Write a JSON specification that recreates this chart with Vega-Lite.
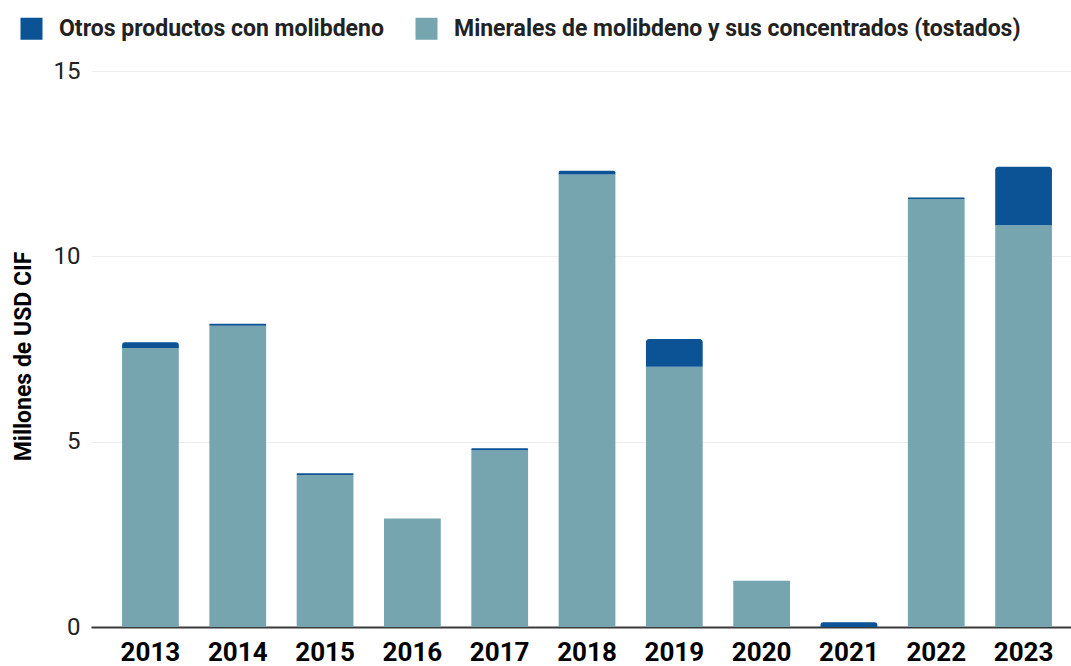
{
  "$schema": "https://vega.github.io/schema/vega-lite/v6.json",
  "autosize": "none",
  "width": 980,
  "height": 556,
  "padding": {"left": 91, "top": 71, "right": 0, "bottom": 39},
  "config": {"font": "Roboto", "view": {"stroke": null}},
  "data": {
    "values": [
      {"anio": "2013", "producto": "Minerales de molibdeno y sus concentrados (tostados)", "valor": 7.53},
      {"anio": "2013", "producto": "Otros productos con molibdeno", "valor": 0.15},
      {"anio": "2014", "producto": "Minerales de molibdeno y sus concentrados (tostados)", "valor": 8.13},
      {"anio": "2014", "producto": "Otros productos con molibdeno", "valor": 0.05},
      {"anio": "2015", "producto": "Minerales de molibdeno y sus concentrados (tostados)", "valor": 4.1},
      {"anio": "2015", "producto": "Otros productos con molibdeno", "valor": 0.05},
      {"anio": "2016", "producto": "Minerales de molibdeno y sus concentrados (tostados)", "valor": 2.93},
      {"anio": "2016", "producto": "Otros productos con molibdeno", "valor": 0},
      {"anio": "2017", "producto": "Minerales de molibdeno y sus concentrados (tostados)", "valor": 4.77},
      {"anio": "2017", "producto": "Otros productos con molibdeno", "valor": 0.05},
      {"anio": "2018", "producto": "Minerales de molibdeno y sus concentrados (tostados)", "valor": 12.21},
      {"anio": "2018", "producto": "Otros productos con molibdeno", "valor": 0.1},
      {"anio": "2019", "producto": "Minerales de molibdeno y sus concentrados (tostados)", "valor": 7.02},
      {"anio": "2019", "producto": "Otros productos con molibdeno", "valor": 0.75},
      {"anio": "2020", "producto": "Minerales de molibdeno y sus concentrados (tostados)", "valor": 1.25},
      {"anio": "2020", "producto": "Otros productos con molibdeno", "valor": 0},
      {"anio": "2021", "producto": "Minerales de molibdeno y sus concentrados (tostados)", "valor": 0},
      {"anio": "2021", "producto": "Otros productos con molibdeno", "valor": 0.13},
      {"anio": "2022", "producto": "Minerales de molibdeno y sus concentrados (tostados)", "valor": 11.55},
      {"anio": "2022", "producto": "Otros productos con molibdeno", "valor": 0.04},
      {"anio": "2023", "producto": "Minerales de molibdeno y sus concentrados (tostados)", "valor": 10.84},
      {"anio": "2023", "producto": "Otros productos con molibdeno", "valor": 1.58}
    ]
  },
  "transform": [
    {"stack": "valor", "groupby": ["anio"], "sort": [{"field": "producto", "order": "ascending"}], "as": ["y0", "y1"]}
  ],
  "encoding": {
    "x": {
      "field": "anio", "type": "nominal", "title": null,
      "scale": {"paddingInner": 0.35, "paddingOuter": 0.287, "align": 0.62},
      "axis": {"labelAngle": 0, "labelFontSize": 26, "labelFontWeight": "bold", "labelColor": "#000000", "ticks": false, "labelPadding": 12, "domainColor": "#3a3a3a", "domainWidth": 2}
    },
    "y": {
      "field": "y1", "type": "quantitative",
      "scale": {"domain": [0, 15], "nice": false},
      "title": "Millones de USD CIF",
      "axis": {"values": [0, 5, 10, 15], "labelFontSize": 24, "labelColor": "#222222", "ticks": false, "domain": false, "gridColor": "#eeeeee", "labelPadding": 11, "titleFontSize": 23, "titleFontWeight": "bold", "titleColor": "#000000", "titleX": -68, "titleY": 285, "titleBaseline": "middle", "titleAlign": "center"}
    },
    "y2": {"field": "y0"},
    "color": {
      "field": "producto", "type": "nominal",
      "scale": {"domain": ["Otros productos con molibdeno", "Minerales de molibdeno y sus concentrados (tostados)"], "range": ["#0b5394", "#76a5af"]},
      "legend": {"title": null, "orient": "none", "legendX": -71, "legendY": -54, "direction": "horizontal", "symbolType": "square", "symbolSize": 484, "symbolStrokeWidth": 0, "symbolOpacity": 1, "labelFontSize": 23, "labelFontWeight": "bold", "labelColor": "#222222", "labelOffset": 16, "columnPadding": 31, "labelLimit": 700}
    }
  },
  "layer": [
    {
      "transform": [{"filter": "datum.producto === 'Minerales de molibdeno y sus concentrados (tostados)' && datum.valor > 0"}],
      "mark": {"type": "bar"}
    },
    {
      "transform": [{"filter": "datum.producto === 'Otros productos con molibdeno' && datum.valor > 0"}],
      "mark": {"type": "bar", "cornerRadiusTopLeft": 3, "cornerRadiusTopRight": 3}
    }
  ]
}
